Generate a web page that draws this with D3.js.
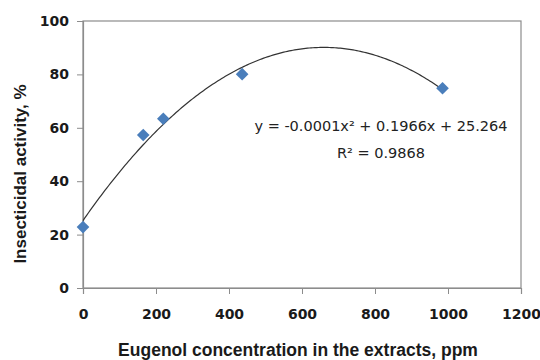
<!DOCTYPE html>
<html>
<head>
<meta charset="utf-8">
<script src="https://cdn.jsdelivr.net/npm/d3@7"></script>
<style>
  body { margin: 0; background: #fff; }
</style>
</head>
<body>
<div id="chart"></div>
<script>
// measured points
const conc = [0, 165, 220, 436, 985];
const activity = [22.8, 57.3, 63.4, 80.1, 74.8];
// polynomial trendline y = a x^2 + b x + c (a shown rounded as -0.0001)
const trendCoef = [-0.000149, 0.1966, 25.264];
const xTicks = [0, 200, 400, 600, 800, 1000, 1200];
const yTicks = [0, 20, 40, 60, 80, 100];
const eqLabel = 'y = -0.0001x² + 0.1966x + 25.264';
const r2Label = 'R² = 0.9868';

const width = 540, height = 360;
const margin = {top: 21, right: 19, bottom: 72, left: 83};
const w = width - margin.left - margin.right;
const h = height - margin.top - margin.bottom;

const svg = d3.select('#chart').append('svg')
  .attr('width', width)
  .attr('height', height);

const g = svg.append('g')
  .attr('transform', `translate(${margin.left},${margin.top})`);

const x = d3.scaleLinear().domain([0, 1200]).range([0, w]);
const y = d3.scaleLinear().domain([0, 100]).range([h, 0]);

// plot frame
g.append('rect')
  .attr('width', w).attr('height', h)
  .attr('fill', 'none')
  .attr('stroke', '#8c8c8c')
  .attr('stroke-width', 1.2);

const xAxis = g.append('g')
  .attr('transform', `translate(0,${h})`)
  .call(d3.axisBottom(x).tickValues(xTicks).tickFormat(d3.format('d')).tickSize(6).tickPadding(15));

const yAxis = g.append('g')
  .call(d3.axisLeft(y).tickValues(yTicks).tickFormat(d3.format('d')).tickSize(6).tickPadding(8));

[xAxis, yAxis].forEach(ax => {
  ax.select('.domain').attr('stroke', '#8c8c8c').attr('stroke-width', 1.2);
  ax.selectAll('.tick line').attr('stroke', '#8c8c8c');
  ax.selectAll('.tick text')
    .attr('font-family', '"DejaVu Sans", sans-serif')
    .attr('font-size', 14)
    .attr('font-weight', 'bold')
    .attr('fill', '#1a1a1a');
});

// trendline, sampled between first and last point
const xs = d3.range(conc[0], conc[conc.length - 1] + 1, 5);
const trend = xs.map(v => [v, trendCoef[0] * v * v + trendCoef[1] * v + trendCoef[2]]);
g.append('path')
  .datum(trend)
  .attr('fill', 'none')
  .attr('stroke', '#333')
  .attr('stroke-width', 1.2)
  .attr('d', d3.line().x(d => x(d[0])).y(d => y(d[1])));

// diamond markers
g.selectAll('.pt')
  .data(conc.map((c, i) => [c, activity[i]]))
  .enter().append('path')
  .attr('class', 'pt')
  .attr('d', d3.symbol().type(d3.symbolSquare).size(80))
  .attr('transform', d => `translate(${x(d[0])},${y(d[1])}) rotate(45)`)
  .attr('fill', '#4a7ebb');

// equation labels
g.append('text')
  .attr('x', 381 - margin.left).attr('y', 131 - margin.top)
  .attr('text-anchor', 'middle')
  .attr('font-family', '"DejaVu Sans", sans-serif')
  .attr('font-size', 14.5)
  .attr('fill', '#222')
  .text(eqLabel);
g.append('text')
  .attr('x', 381 - margin.left).attr('y', 158 - margin.top)
  .attr('text-anchor', 'middle')
  .attr('font-family', '"DejaVu Sans", sans-serif')
  .attr('font-size', 14.5)
  .attr('fill', '#222')
  .text(r2Label);

// axis titles
svg.append('text')
  .attr('x', 298).attr('y', 356)
  .attr('text-anchor', 'middle')
  .attr('font-family', '"Liberation Sans", Arial, sans-serif')
  .attr('font-size', 17.5)
  .attr('font-weight', 'bold')
  .attr('fill', '#1a1a1a')
  .text('Eugenol concentration in the extracts, ppm');

svg.append('text')
  .attr('transform', 'translate(26,174) rotate(-90)')
  .attr('text-anchor', 'middle')
  .attr('font-family', '"Liberation Sans", Arial, sans-serif')
  .attr('font-size', 17)
  .attr('font-weight', 'bold')
  .attr('fill', '#1a1a1a')
  .text('Insecticidal activity, %');
</script>
</body>
</html>
